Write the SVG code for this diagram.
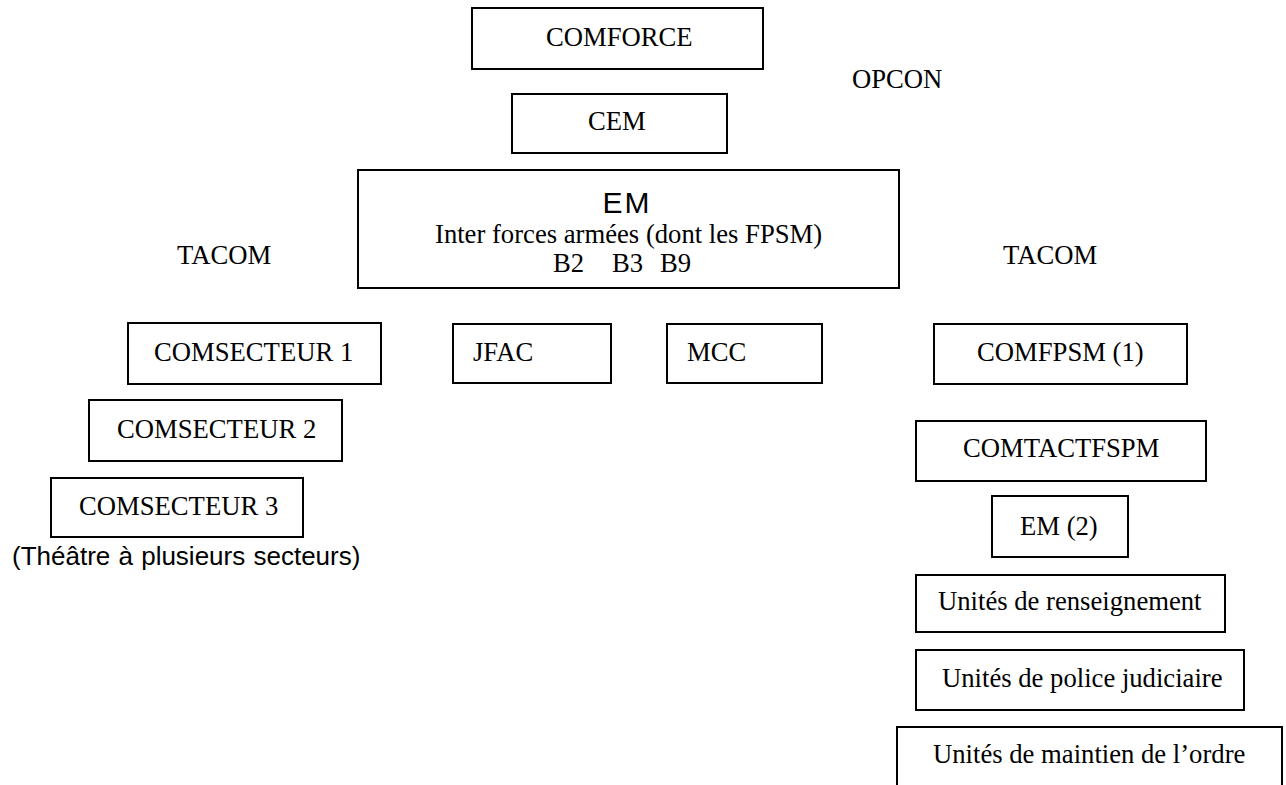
<svg xmlns="http://www.w3.org/2000/svg" width="1286" height="785" viewBox="0 0 1286 785">
<style>
.box{fill:#fff;stroke:#000;stroke-width:2}
.t{font-family:"Liberation Serif","Times New Roman",serif;font-size:26.67px;fill:#000}
.a{font-family:"Liberation Sans",Arial,sans-serif;fill:#000}
</style>
<rect width="1286" height="785" fill="#fff"/>
<g id="connectors"/>
<g id="comforce"><rect class="box" x="472" y="8" width="291" height="61"/><text class="t" x="546" y="46">COMFORCE</text></g>
<g id="cem"><rect class="box" x="512" y="94" width="215" height="59"/><text class="t" x="588" y="130">CEM</text></g>
<g id="opcon"><text class="t" x="852" y="88">OPCON</text></g>
<g id="em"><rect class="box" x="358" y="170" width="541" height="118"/>
<text class="a" x="627" y="213" font-size="30" letter-spacing="2" text-anchor="middle">EM</text>
<text class="t" x="435" y="243">Inter forces armées (dont les FPSM)</text>
<text class="t" y="272"><tspan x="553">B2</tspan><tspan x="612">B3</tspan><tspan x="660">B9</tspan></text></g>
<g id="tacom-left"><text class="t" x="177" y="264">TACOM</text></g>
<g id="tacom-right"><text class="t" x="1003" y="264">TACOM</text></g>
<g id="comsecteur1"><rect class="box" x="128" y="323" width="253" height="61"/><text class="t" x="154" y="361">COMSECTEUR 1</text></g>
<g id="jfac"><rect class="box" x="453" y="324" width="158" height="59"/><text class="t" x="473" y="361">JFAC</text></g>
<g id="mcc"><rect class="box" x="667" y="324" width="155" height="59"/><text class="t" x="687" y="361">MCC</text></g>
<g id="comfpsm"><rect class="box" x="934" y="324" width="253" height="60"/><text class="t" x="977" y="361">COMFPSM (1)</text></g>
<g id="comsecteur2"><rect class="box" x="89" y="400" width="253" height="61"/><text class="t" x="117" y="438">COMSECTEUR 2</text></g>
<g id="comtactfspm"><rect class="box" x="916" y="421" width="290" height="60"/><text class="t" x="963" y="457">COMTACTFSPM</text></g>
<g id="comsecteur3"><rect class="box" x="51" y="478" width="252" height="59"/><text class="t" x="79" y="515">COMSECTEUR 3</text></g>
<g id="em2"><rect class="box" x="992" y="496" width="136" height="61"/><text class="t" x="1020" y="535">EM (2)</text></g>
<g id="theatre"><text class="a" x="12" y="565" font-size="26" word-spacing="1">(Théâtre à plusieurs secteurs)</text></g>
<g id="renseignement"><rect class="box" x="916" y="575" width="309" height="57"/><text class="t" x="938" y="610">Unités de renseignement</text></g>
<g id="police"><rect class="box" x="916" y="650" width="328" height="60"/><text class="t" x="942" y="687">Unités de police judiciaire</text></g>
<g id="maintien"><path d="M897,790 V727 H1282 V790" fill="#fff" stroke="#000" stroke-width="2"/><text class="t" x="933" y="763">Unités de maintien de l’ordre</text></g>
</svg>
